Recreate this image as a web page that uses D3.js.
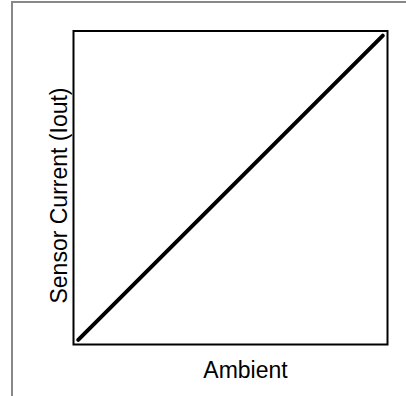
<!doctype html>
<html>
  <head>
    <meta charset="utf-8">
    <title>Sensor Current vs Ambient</title>
    <script src="https://cdnjs.cloudflare.com/ajax/libs/d3/7.8.5/d3.min.js"></script>
    <style>
      body { margin: 0; background: #fff; }
      text { font-family: Arial, "Liberation Sans", sans-serif; fill: #000; }
    </style>
  </head>
  <body>
    <div id="chart"></div>
    <script>
      // data (arbitrary units, no ticks shown)
      const ambient = [1.5, 98.5];
      const current = [1.5, 98.5];
      const domain = [0, 100];
      const xLabel = 'Ambient';
      const yLabel = 'Sensor Current (Iout)';

      const width = 406, height = 396;
      const box = { left: 73.5, right: 387.5, top: 31, bottom: 344.5 };

      const x = d3.scaleLinear().domain(domain).range([box.left, box.right]);
      const y = d3.scaleLinear().domain(domain).range([box.bottom, box.top]);

      const svg = d3.select('#chart')
        .append('svg')
        .attr('width', width)
        .attr('height', height);

      // outer frame (only left and top visible)
      svg.append('path')
        .attr('d', 'M12,' + height + 'V2H' + width)
        .attr('fill', 'none')
        .attr('stroke', '#888')
        .attr('stroke-width', 2);

      // plot box
      svg.append('rect')
        .attr('x', x(domain[0]))
        .attr('y', y(domain[1]))
        .attr('width', x(domain[1]) - x(domain[0]))
        .attr('height', y(domain[0]) - y(domain[1]))
        .attr('fill', 'none')
        .attr('stroke', '#000')
        .attr('stroke-width', 2);

      // the line
      const line = d3.line()
        .x(d => x(d[0]))
        .y(d => y(d[1]));

      svg.append('path')
        .datum(ambient.map((a, i) => [a, current[i]]))
        .attr('d', line)
        .attr('fill', 'none')
        .attr('stroke', '#000')
        .attr('stroke-width', 4)
        .attr('stroke-linecap', 'round');

      // axis titles
      svg.append('text')
        .attr('x', 245.5)
        .attr('y', 377.5)
        .attr('text-anchor', 'middle')
        .style('font-size', '23px')
        .text(xLabel);

      svg.append('text')
        .attr('transform', 'translate(67,195.5) rotate(-90)')
        .attr('text-anchor', 'middle')
        .style('font-size', '23px')
        .text(yLabel);
    </script>
  </body>
</html>
